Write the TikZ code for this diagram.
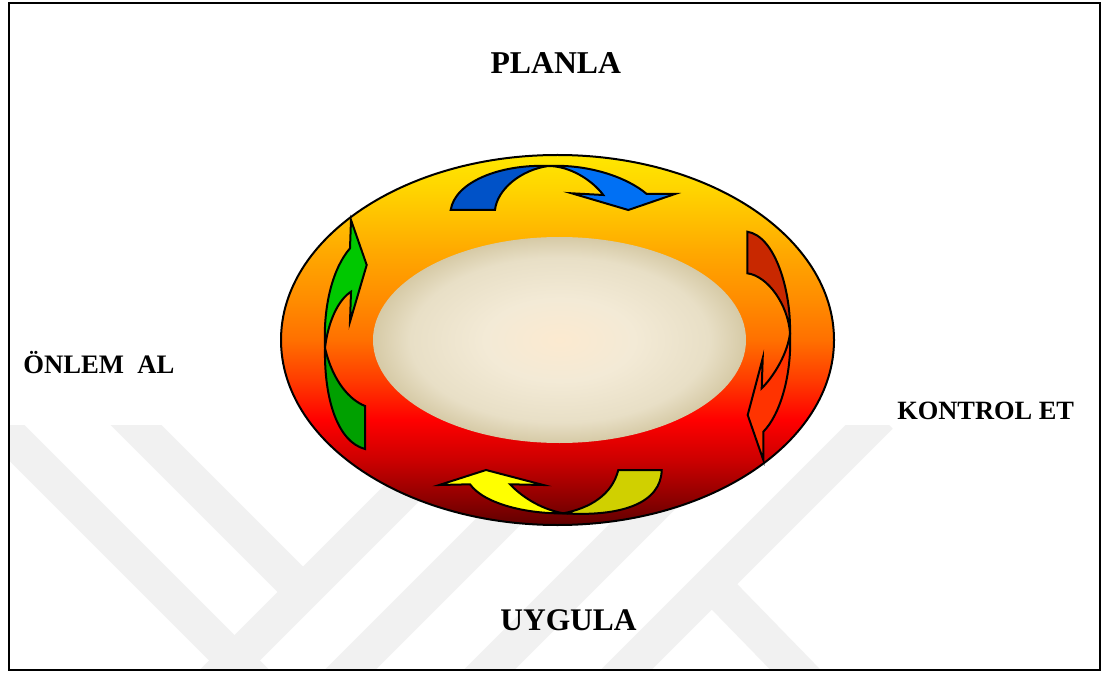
\documentclass[tikz,border=0pt]{standalone}
\usepackage{fontspec}
\setmainfont{Liberation Serif}
\definecolor{ringA}{HTML}{FFE800}
\definecolor{ringB}{HTML}{FFD200}
\definecolor{ringC}{HTML}{FFAA00}
\definecolor{ringD}{HTML}{FF8C00}
\definecolor{ringE}{HTML}{FF7000}
\definecolor{ringF}{HTML}{FF3C00}
\definecolor{ringG}{HTML}{FF0000}
\definecolor{ringH}{HTML}{CC0000}
\definecolor{ringI}{HTML}{8C0000}
\definecolor{ringJ}{HTML}{600000}
\definecolor{inA}{HTML}{FCEAD0}
\definecolor{inB}{HTML}{F3EAD6}
\definecolor{inC}{HTML}{E8DFC6}
\definecolor{inD}{HTML}{D6CAA6}
\definecolor{bluedk}{HTML}{0052C8}
\definecolor{bluelt}{HTML}{0070F4}
\definecolor{greenlt}{HTML}{00C800}
\definecolor{greendk}{HTML}{00A000}
\definecolor{reddk}{HTML}{C82800}
\definecolor{redlt}{HTML}{FF3300}
\definecolor{yellt}{HTML}{FFFF00}
\definecolor{yeldk}{HTML}{D0D000}
\definecolor{wmgray}{HTML}{F1F1F1}
\pgfdeclareverticalshading{ringshade}{100bp}{color(0bp)=(ringJ); color(25bp)=(ringJ); color(28.4bp)=(ringI); color(33.8bp)=(ringH); color(39.2bp)=(ringG); color(44.6bp)=(ringF); color(50bp)=(ringE); color(55.4bp)=(ringD); color(62.2bp)=(ringC); color(69.9bp)=(ringB); color(75bp)=(ringA); color(100bp)=(ringA)}
\pgfdeclareradialshading{innershade}{\pgfpoint{0bp}{0bp}}{color(0bp)=(inA); color(10bp)=(inB); color(20bp)=(inC); color(25bp)=(inD); color(50bp)=(inD)}
\tikzset{
  arrowpart/.style={draw=black, line width=1.5pt, line join=miter, miter limit=20},
  wmband/.style={draw=wmgray, line width=27pt, line cap=butt},
  label/.style={font=\bfseries, inner sep=0pt, text=black}
}
\begin{document}
\begin{tikzpicture}[x=0.75pt,y=-0.75pt]
\useasboundingbox (0,0) rectangle (1105,673);
\fill[white] (0,0) rectangle (1105,673);
% watermark
\begin{scope}
\clip (10,425) rectangle (1099,669);
\draw[wmband] (-20,406) -- (270,696);
\draw[wmband] (110,399) -- (300,589);
\draw[wmband] (200,695) -- (480,415);
\draw[wmband] (320,700) -- (600,420);
\draw[wmband] (460,699) -- (740,419);
\draw[wmband] (600,696) -- (880,416);
\draw[wmband] (712,584) -- (820,695);
\end{scope}
% ring
\shadedraw[shading=ringshade, draw=black, line width=1.5pt] (557.5,340) ellipse [x radius=276.5, y radius=185];
\shade[shading=innershade] (559.5,340) ellipse [x radius=186.5, y radius=103];
% blue arrow (top)
\filldraw[arrowpart, fill=bluedk] (450.7,210) .. controls (455,182) and (500,164) .. (548.3,166) .. controls (520,170) and (497,190) .. (495,210) -- cycle;
\filldraw[arrowpart, fill=bluelt] (548.3,166) .. controls (590,164) and (628,178) .. (646.7,194) -- (675,194) -- (628.3,210) -- (571.7,193.3) -- (603.3,195) .. controls (592,180) and (570,166) .. (548.3,166) -- cycle;
% red arrow (right)
\filldraw[arrowpart, fill=reddk] (747.3,231.7) .. controls (775,236) and (791,290) .. (790,333) .. controls (788,305) and (768,276) .. (747.3,273.3) -- cycle;
\filldraw[arrowpart, fill=redlt] (790,333) .. controls (792,375) and (780,415) .. (763.3,431.7) -- (763.3,460) -- (747.7,415) -- (762.7,358.3) -- (761.7,388.3) .. controls (775,375) and (788,352) .. (790,333) -- cycle;
% yellow arrow (bottom)
\filldraw[arrowpart, fill=yeldk] (618.3,470) -- (661.7,470) .. controls (661,503) and (622,517) .. (563.3,513.3) .. controls (590,508) and (612,495) .. (618.3,470) -- cycle;
\filldraw[arrowpart, fill=yellt] (470,484.3) -- (439.3,485) -- (486,470) -- (543.3,485) -- (510,484.3) .. controls (525,500) and (545,510) .. (563.3,513.3) .. controls (530,514) and (485,505) .. (470,484.3) -- cycle;
% green arrow (left)
\filldraw[arrowpart, fill=greendk] (325,348) .. controls (324,400) and (338,442) .. (365,449) -- (365,406) .. controls (350,400) and (333,382) .. (325,348) -- cycle;
\filldraw[arrowpart, fill=greenlt] (350,248.3) -- (351,220) -- (366.7,265) -- (350,321.7) -- (351,291.7) .. controls (338,300) and (328,322) .. (325,348) .. controls (323,305) and (333,268) .. (350,248.3) -- cycle;
% labels
\node[label, anchor=base, font=\bfseries\fontsize{23.8}{28}\selectfont] (planla) at (555.8,73.3) {PLANLA};
\node[label, anchor=base, font=\bfseries\fontsize{23.6}{28}\selectfont] (uygula) at (568.5,630) {UYGULA};
\node[label, anchor=base west, font=\bfseries\fontsize{20}{24}\selectfont] (onlem) at (23,373.3) {ÖNLEM~~AL};
\node[label, anchor=base west, font=\bfseries\fontsize{19.8}{24}\selectfont] (kontrol) at (897,419) {KONTROL ET};
% frame
\draw[line width=1.9pt] (9,3) rectangle (1100,670);
\end{tikzpicture}
\end{document}
